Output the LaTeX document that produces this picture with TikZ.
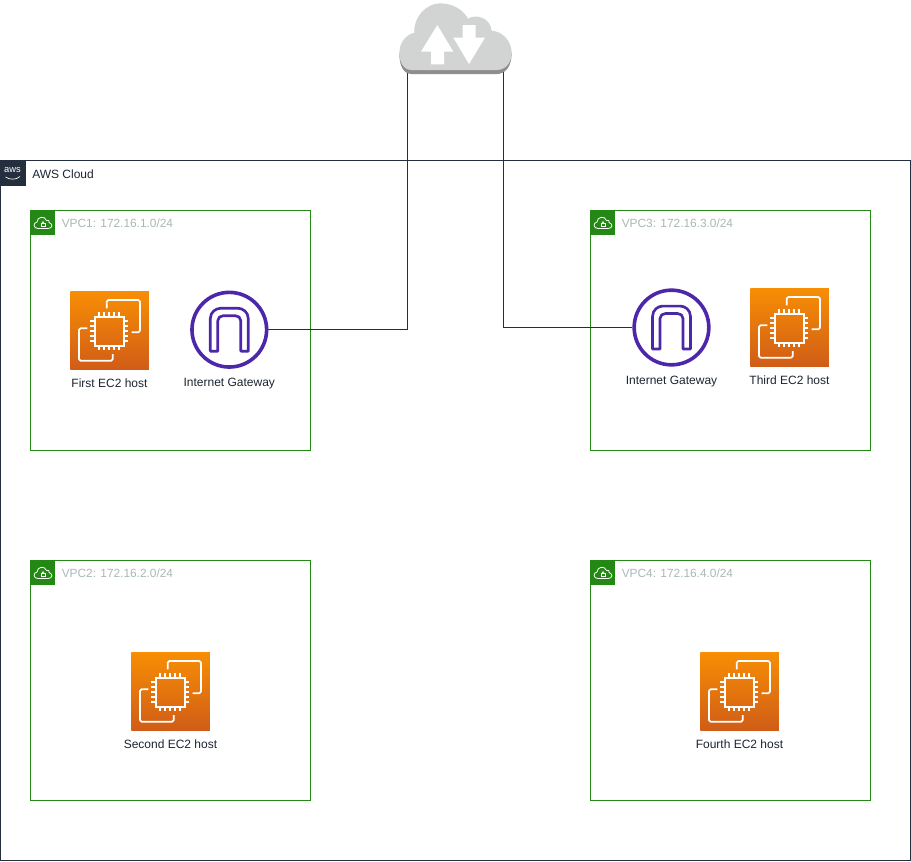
\documentclass[tikz,border=0pt]{standalone}
\usepackage{fontspec}
\setmainfont{Liberation Sans}
\definecolor{awsdark}{HTML}{232F3E}
\definecolor{vpcgreen}{HTML}{248814}
\definecolor{vpcgray}{HTML}{AAB7B8}
\definecolor{gwpurple}{HTML}{4D27AA}
\definecolor{ectop}{HTML}{F78E04}
\definecolor{ecbot}{HTML}{D05C17}
\definecolor{cloudtop}{HTML}{D2D3D3}
\definecolor{cloudbot}{HTML}{8E8E8E}
\tikzset{
  frame/.style={draw=awsdark,line width=.75pt,fill=white,inner sep=0pt},
  vpcbox/.style={color=vpcgreen,draw=vpcgreen,line width=.75pt,inner sep=0pt,minimum width=210pt,minimum height=180pt},
  vpctag/.style={fill=vpcgreen,inner sep=0pt,minimum size=18.75pt},
  vpclabel/.style={text=vpcgray,font=\fontsize{8.9}{11}\selectfont,anchor=west,inner sep=0pt},
  caption/.style={text=awsdark!80!black,font=\fontsize{9}{11}\selectfont,inner sep=0pt},
  ecicon/.style={top color=ectop,bottom color=ecbot,draw=none,inner sep=0pt,minimum size=59pt},
  ecline/.style={draw=white,line width=1.3pt,line join=round,rounded corners=1.2pt},
  gwring/.style={circle,draw=gwpurple,line width=2.7pt,fill=white,inner sep=0pt,minimum size=56pt},
  gwarch/.style={draw=gwpurple,line width=2pt,line join=round},
  link/.style={draw=awsdark,line width=.75pt},
}
% top-left x, y, node name, label
\newcommand{\ectwohost}[4]{%
  \node[ecicon,anchor=north west] (#3) at (#1,#2) {};
  \node[caption] (#3l) at (#1+39.5,#2+92) {#4};
  \begin{scope}[shift={(#1,#2)}]
    \draw[ecline] (36.7,17.3) -- (36.7,9) -- (70,9) -- (70,41.3) -- (61.7,41.3);
    \draw[ecline] (42.7,63) -- (42.7,69.7) -- (9,69.7) -- (9,37.3) -- (17.3,37.3);
    \draw[draw=white,line width=1.5pt] (24.5,25.5) rectangle (53.5,54.5);
    \foreach \k in {-10,-5,0,5,10}{
      \draw[white,line width=1.2pt] (39+\k,25.5) -- (39+\k,21);
      \draw[white,line width=1.2pt] (39+\k,54.5) -- (39+\k,59);
      \draw[white,line width=1.2pt] (24.5,40+\k) -- (20,40+\k);
      \draw[white,line width=1.2pt] (53.5,40+\k) -- (58,40+\k);
    }
  \end{scope}
}
% centre x, y, node name, label y
\newcommand{\gateway}[4]{%
  \node[gwring] (#3) at (#1,#2) {};
  \node[caption] (#3l) at (#1,#4) {Internet Gateway};
  \begin{scope}[shift={(#1,#2)}]
    \draw[gwarch] (-19,21.5) -- (-19,-11) .. controls (-19,-18) and (-13,-21.4) .. (-9,-21.4)
      -- (9,-21.4) .. controls (13,-21.4) and (19,-18) .. (19,-11) -- (19,21.5)
      -- (11.5,21.5) -- (11.5,-9) .. controls (11.5,-12) and (9,-14) .. (6,-14)
      -- (-6,-14) .. controls (-9,-14) and (-11.5,-12) .. (-11.5,-9) -- (-11.5,21.5) -- cycle;
  \end{scope}
}
% left x, top y, node name, label
\newcommand{\vpc}[4]{%
  \node[vpcbox,anchor=north west] (#3) at (#1,#2) {};
  \node[vpctag,anchor=north west] (#3t) at (#1,#2) {};
  \node[vpclabel] (#3l) at (#1+31.5,#2+13.5) {#4};
  \begin{scope}[shift={(#1+13,#2+13.5)}]
    \draw[white,line width=.6pt] (-5,5) .. controls (-10,5) and (-10,-1) .. (-6,-1.5)
      .. controls (-6,-7) and (2,-8) .. (3.5,-3) .. controls (7,-4) and (6,-1) .. (6,-1)
      .. controls (10,0) and (10,5) .. (5,5) -- cycle;
    \draw[white,line width=.6pt] (-2,-.5) rectangle (2,3);
    \draw[white,line width=.5pt] (-1,-.5) .. controls (-1,-2.5) and (1,-2.5) .. (1,-.5);
  \end{scope}
}
\begin{document}
\begin{tikzpicture}[x=.75pt,y=-.75pt]
\useasboundingbox (0,0) rectangle (911,861);
% AWS Cloud group
\node[frame,anchor=north west,minimum width=682.5pt,minimum height=525pt] (aws) at (0,160) {};
\node[fill=awsdark,inner sep=0pt,minimum width=19pt,minimum height=19.5pt,anchor=north west] (awstag) at (0,160) {};
\node[text=white,font=\fontsize{7}{8}\selectfont,inner sep=0pt] (awsmark) at (12.5,170.5) {aws};
\draw[white,line width=.5pt] (5.5,177) .. controls (10,180) and (16,180) .. (20,176.5);
\node[caption,anchor=west] (awsl) at (32,174) {AWS Cloud};
% VPCs
\vpc{30}{210}{v1}{VPC1: 172.16.1.0/24}
\vpc{590}{210}{v3}{VPC3: 172.16.3.0/24}
\vpc{30}{560}{v2}{VPC2: 172.16.2.0/24}
\vpc{590}{560}{v4}{VPC4: 172.16.4.0/24}
% Hosts
\ectwohost{70}{291}{h1}{First EC2 host}
\ectwohost{750}{288}{h3}{Third EC2 host}
\ectwohost{131}{652}{h2}{Second EC2 host}
\ectwohost{700}{652}{h4}{Fourth EC2 host}
% Gateways
\gateway{229.3}{329.7}{g1}{383.5}
\gateway{671.5}{327.5}{g3}{381.5}
% Connectors
\coordinate (c1) at (407,60);
\coordinate (c3) at (503.5,60);
\draw[link] (g1.east) -| (c1);
\draw[link] (g3.west) -| (c3);
% Internet cloud
\node[inner sep=0pt,minimum width=84pt,minimum height=54pt] (net) at (455.5,38.5) {};
\begin{scope}[shift={(380,0)},x=.25pt,y=-.25pt]
  \fill[cloudbot] (95,222) .. controls (70,222) and (58,197) .. (58,160) -- (395,158) .. controls (395,202) and (375,222) .. (350,222) -- cycle;
  \fill[cloudtop] (95,210) .. controls (70,210) and (58,185) .. (58,160) .. controls (58,130) and (75,105) .. (103,98)
    .. controls (100,50) and (140,10) .. (180,10) .. controls (220,10) and (250,30) .. (264,56)
    .. controls (285,42) and (330,50) .. (335,92) .. controls (370,95) and (395,125) .. (395,158)
    .. controls (395,190) and (375,210) .. (350,210) -- cycle;
  \fill[white] (172,75) -- (220,155) -- (192,155) -- (192,193) -- (153,193) -- (153,155) -- (123,155) -- cycle;
  \fill[white] (267,192) -- (315,113) -- (287,113) -- (287,75) -- (248,75) -- (248,113) -- (220,113) -- cycle;
\end{scope}
\end{tikzpicture}
\end{document}
